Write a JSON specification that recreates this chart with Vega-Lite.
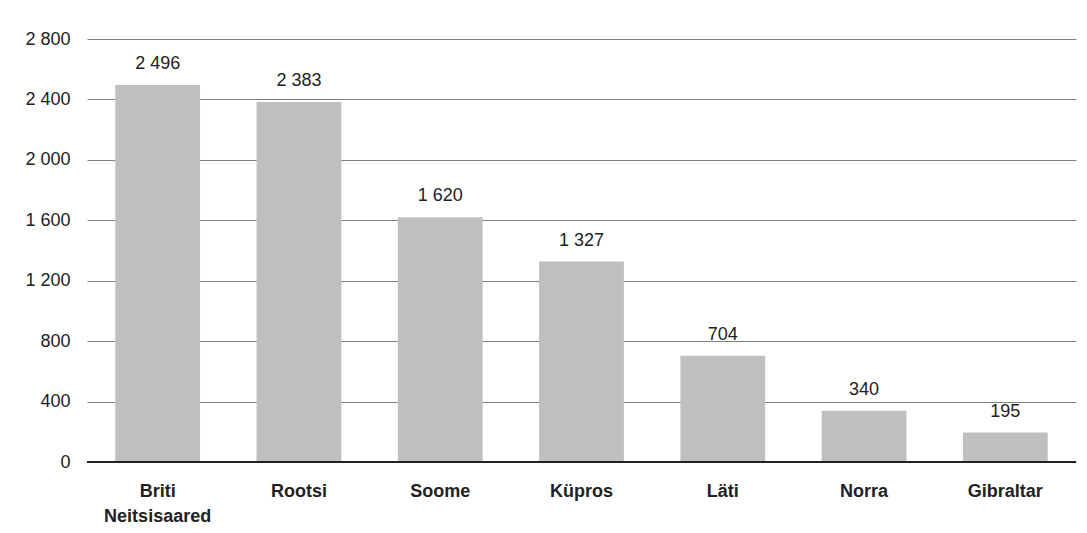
{
  "$schema": "https://vega.github.io/schema/vega-lite/v6.json",
  "autosize": "none",
  "width": 989,
  "height": 423,
  "padding": {"left": 87, "top": 39, "right": 11, "bottom": 71},
  "background": "white",
  "config": {
    "view": {"stroke": null},
    "font": "Liberation Sans",
    "locale": {"number": {"decimal": ",", "thousands": " ", "grouping": [3], "currency": ["", " €"]}}
  },
  "data": {
    "values": [
      {"riik": "Briti Neitsisaared", "vaartus": 2496},
      {"riik": "Rootsi", "vaartus": 2383},
      {"riik": "Soome", "vaartus": 1620},
      {"riik": "Küpros", "vaartus": 1327},
      {"riik": "Läti", "vaartus": 704},
      {"riik": "Norra", "vaartus": 340},
      {"riik": "Gibraltar", "vaartus": 195}
    ]
  },
  "encoding": {
    "x": {
      "field": "riik", "type": "nominal", "sort": null,
      "scale": {"paddingInner": 0.4, "paddingOuter": 0.2},
      "axis": {
        "title": null, "labelAngle": 0, "ticks": false, "domain": false,
        "labelFont": "Liberation Sans", "labelFontWeight": "bold", "labelFontSize": 18,
        "labelColor": "#222222", "labelPadding": 29, "labelBaseline": "middle",
        "labelExpr": "datum.value == 'Briti Neitsisaared' ? ['Briti', 'Neitsisaared'] : datum.value",
        "labelLineHeight": 25
      }
    },
    "y": {
      "field": "vaartus", "type": "quantitative",
      "scale": {"domain": [0, 2800], "nice": false},
      "axis": {
        "title": null, "values": [0, 400, 800, 1200, 1600, 2000, 2400, 2800],
        "format": ",d", "ticks": false, "domain": false,
        "grid": true, "gridColor": "#7f7f7f", "gridWidth": 1,
        "labelFontSize": 18, "labelColor": "#222222", "labelPadding": 17
      }
    }
  },
  "layer": [
    {"mark": {"type": "bar", "color": "#bebfc1"}},
    {
      "mark": {"type": "rule", "color": "#222222", "strokeWidth": 2},
      "encoding": {"y": {"datum": 0, "type": "quantitative"}, "x": null}
    },
    {
      "mark": {"type": "text", "baseline": "bottom", "dy": -12, "fontSize": 18, "color": "#222222"},
      "encoding": {"text": {"field": "vaartus", "type": "quantitative", "format": ",d"}}
    }
  ]
}
